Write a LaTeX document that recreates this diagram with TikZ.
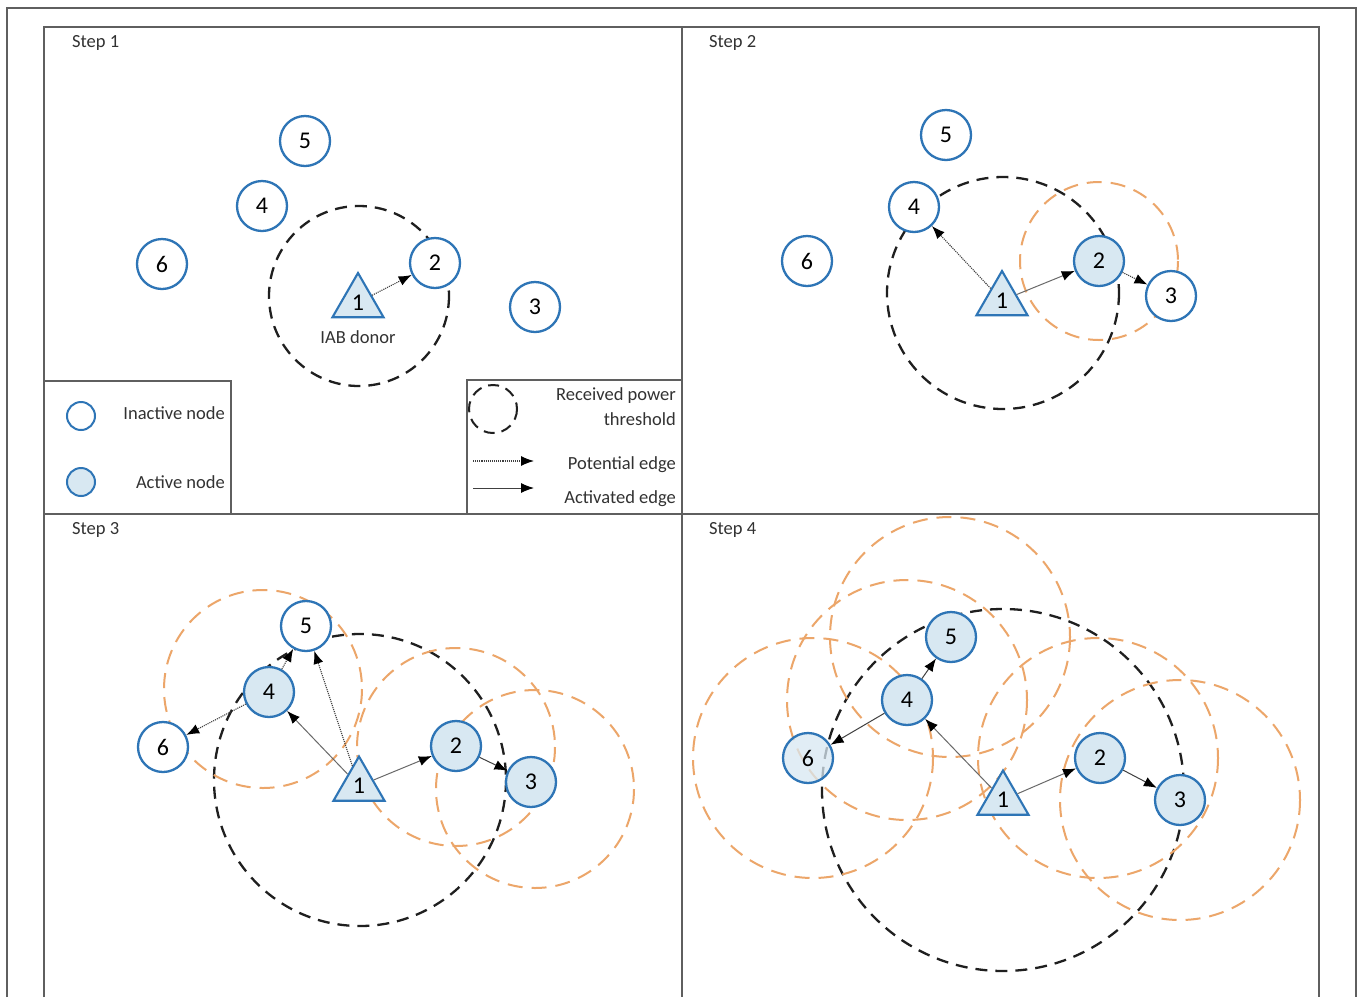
\documentclass[tikz,border=0pt]{standalone}
\usepackage{fontspec}
\setmainfont{Carlito}
\usetikzlibrary{arrows.meta,shapes.geometric}
\definecolor{nblue}{RGB}{46,117,182}
\definecolor{nfill}{RGB}{216,232,242}
\definecolor{orng}{RGB}{236,166,106}
\definecolor{framegray}{RGB}{95,95,95}
\definecolor{txtgray}{RGB}{50,50,50}
\definecolor{edgegray}{RGB}{105,105,105}
\begin{document}
\begin{tikzpicture}[x=1pt,y=-1pt,
  inact/.style={circle,draw=nblue,line width=2.3pt,fill=white,minimum size=50pt,inner sep=0pt,font=\fontsize{24}{26}\selectfont},
  act/.style={inact,fill=nfill},
  donor/.style={regular polygon,regular polygon sides=3,draw=nblue,line width=2.1pt,fill=nfill,minimum size=59pt,inner sep=0pt,font=\fontsize{24}{26}\selectfont},
  thr/.style={draw=black!88,dash pattern=on 12pt off 8pt,line width=2.3pt},
  rng/.style={draw=orng,dash pattern=on 15pt off 9pt,line width=2pt},
  lbl/.style={font=\fontsize{18.5}{22}\selectfont,text=txtgray,inner sep=0pt},
  potential/.style={draw=black!75,densely dotted,line width=1.1pt,-{Latex[length=13pt,width=10pt,color=black]}},
  activated/.style={draw=edgegray,line width=1pt,-{Latex[length=13pt,width=10pt,color=black]}},
  activeddark/.style={draw=black!75,line width=1pt,-{Latex[length=13pt,width=10pt,color=black]}},
  panel/.style={draw=framegray,line width=1.3pt}
]
\useasboundingbox (0,0) rectangle (1358,997);
\fill[white] (0,0) rectangle (1358,997);

% outer frame
\draw[draw=framegray,line width=1.1pt] (7,997) -- (7,8) -- (1356,8) -- (1356,997);
% panels
\draw[panel] (44,997) -- (44,27) -- (1319,27) -- (1319,997);
\draw[panel] (682,27) -- (682,997);
\draw[panel] (44,514) -- (1319,514);

% step labels
\node[lbl,anchor=west] (s1) at (72,43) {Step 1};
\node[lbl,anchor=west] (s2) at (709,43) {Step 2};
\node[lbl,anchor=west] (s3) at (72,530) {Step 3};
\node[lbl,anchor=west] (s4) at (709,530) {Step 4};

% ---------- Step 1 ----------
\draw[thr] (359,296) circle (90);
\node[inact] (a5) at (305,141) {5};
\node[inact] (a4) at (262,206) {4};
\node[inact] (a6) at (162,264) {6};
\node[inact] (a2) at (435,263) {2};
\node[inact] (a3) at (535,307) {3};
\node[donor] (a1) at (358,302.5) {1};
\node[lbl] (iab) at (358,337) {IAB donor};
\draw[potential] (a1) -- (a2);

% legend 1
\draw[panel] (44,381) -- (231,381) -- (231,514);
\node[inact,minimum size=28pt,line width=2pt] (li) at (81,416) {};
\node[act,minimum size=28pt,line width=2pt] (la) at (81,482) {};
\node[lbl,anchor=east] (lit) at (225,413) {Inactive node};
\node[lbl,anchor=east] (lat) at (225,482) {Active node};

% legend 2
\draw[panel] (467,514) -- (467,380) -- (682,380);
\draw[thr,line width=2pt,dash pattern=on 11pt off 7pt] (493,409) circle (24);
\node[lbl,anchor=east] (lr1) at (676,396) {Received power};
\node[lbl,anchor=east] (lr2) at (676,419) {threshold};
\coordinate (lp1) at (473,461);
\coordinate (lp2) at (534,461);
\draw[potential] (lp1) -- (lp2);
\node[lbl,anchor=east] (lpt) at (676,465) {Potential edge};
\coordinate (le1) at (473,488);
\coordinate (le2) at (534,488);
\draw[activeddark] (le1) -- (le2);
\node[lbl,anchor=east] (let) at (676,499) {Activated edge};

% ---------- Step 2 ----------
\draw[thr] (1003,293) circle (116);
\draw[rng] (1099,261) circle (79);
\node[inact] (b5) at (946,135) {5};
\node[inact] (b4) at (914,207) {4};
\node[inact] (b6) at (807,261) {6};
\node[act] (b2) at (1099,261) {2};
\node[inact] (b3) at (1171,296) {3};
\node[donor] (b1) at (1002,300.5) {1};
\draw[potential] (b1) -- (b4);
\draw[activated] (b1) -- (b2);
\draw[potential] (b2) -- (b3);

% ---------- Step 3 ----------
\draw[thr] (360,780) circle (146);
\draw[rng] (263,689) circle (99);
\draw[rng] (456,747) circle (99);
\draw[rng] (535,789) circle (99);
\node[inact] (c5) at (306,626) {5};
\node[act] (c4) at (269,692) {4};
\node[inact] (c6) at (163,747) {6};
\node[act] (c2) at (456,746) {2};
\node[act] (c3) at (531,782) {3};
\node[donor] (c1) at (359,786) {1};
\draw[activated] (c1) -- (c4);
\draw[potential] (c1) -- (c5);
\draw[potential] (c4) -- (c5);
\draw[potential] (c4) -- (c6);
\draw[activated] (c1) -- (c2);
\draw[activeddark] (c2) -- (c3);

% ---------- Step 4 ----------
\draw[thr] (1003,790) circle (181);
\draw[rng] (950,637) circle (120);
\draw[rng] (907,700) circle (120);
\draw[rng] (813,758) circle (120);
\draw[rng] (1098,758) circle (120);
\draw[rng] (1180,800) circle (120);
\node[act] (d5) at (951,637) {5};
\node[act] (d4) at (907,700) {4};
\node[act,fill opacity=0.75,text opacity=1] (d6) at (808,758) {6};
\node[act] (d2) at (1100,758) {2};
\node[act] (d3) at (1180,800) {3};
\node[donor] (d1) at (1003,800) {1};
\draw[activated] (d1) -- (d4);
\draw[activeddark] (d4) -- (d5);
\draw[activeddark] (d4) -- (d6);
\draw[activated] (d1) -- (d2);
\draw[activeddark] (d2) -- (d3);
\end{tikzpicture}
\end{document}
